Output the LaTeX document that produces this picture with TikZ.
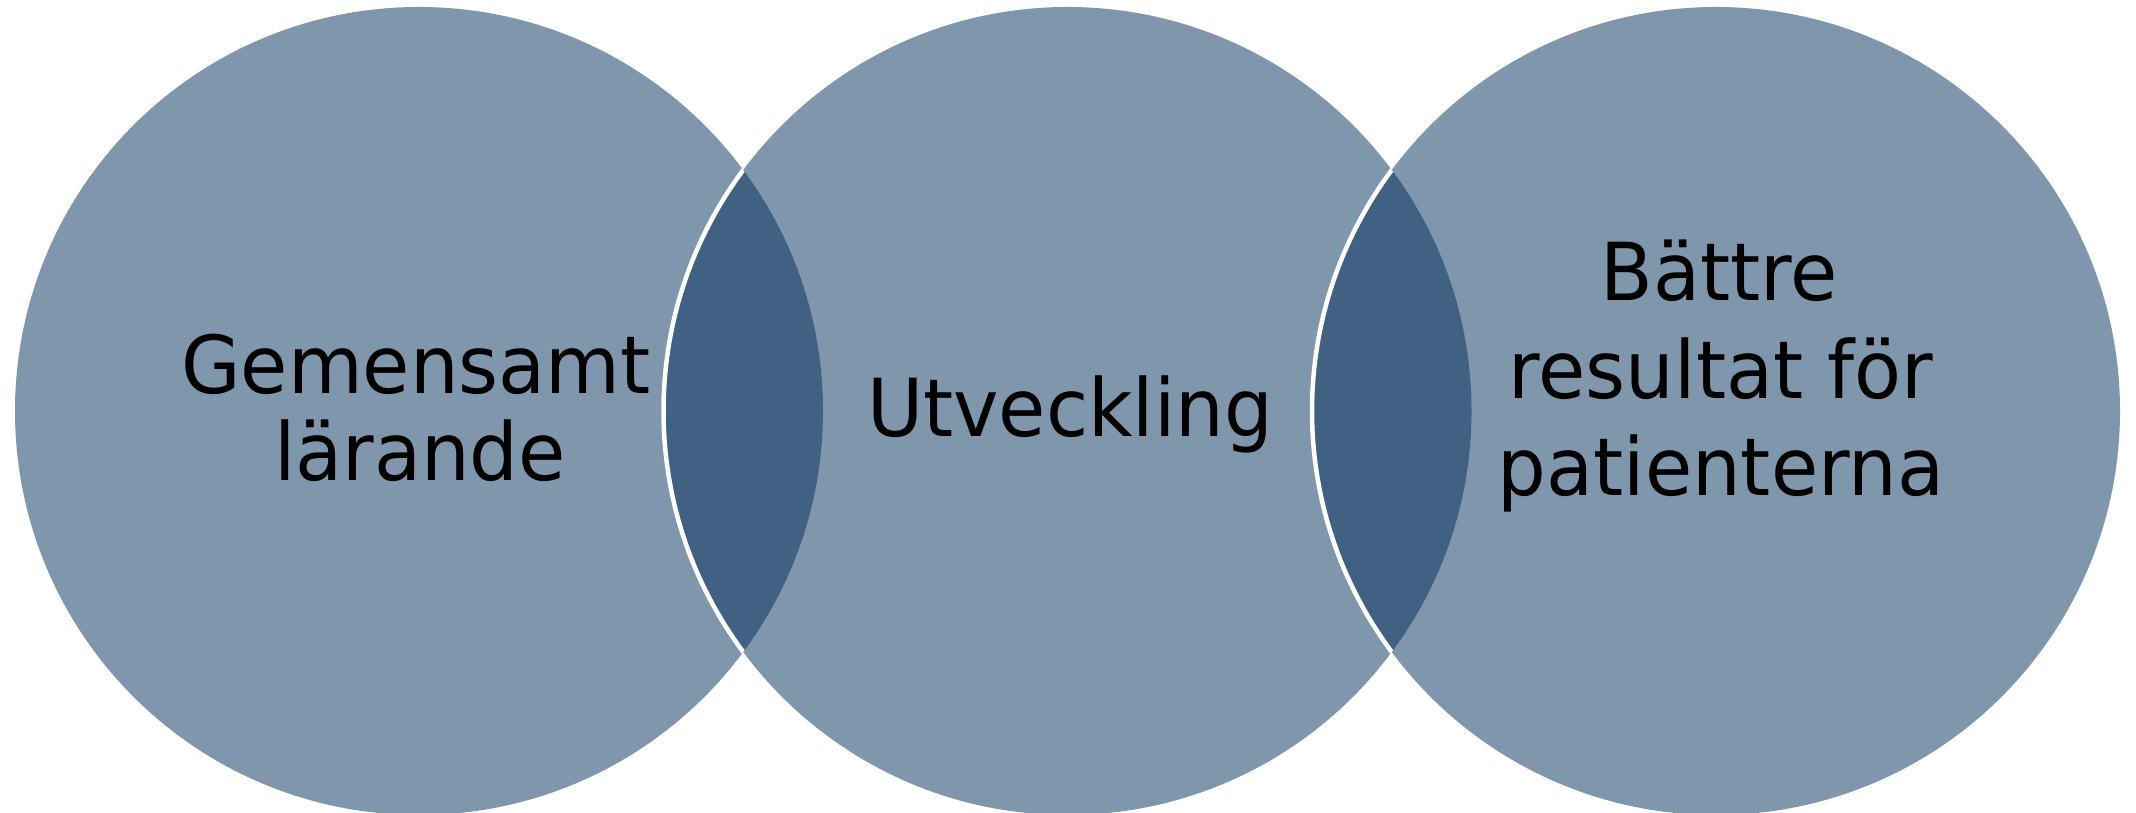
\documentclass[tikz,border=0pt]{standalone}
\usepackage{fontspec}
\setmainfont{DejaVu Sans}[FakeStretch=0.96]
\definecolor{vlight}{RGB}{127,150,172}
\definecolor{vdark}{RGB}{65,97,131}
\begin{document}
\begin{tikzpicture}[x=1pt,y=1pt,
  lbl/.style={inner sep=0pt, anchor=base, font=\fontsize{80}{88}\selectfont},
  ring/.style={fill=vlight},
  lens/.style={fill=vdark},
  rim/.style={draw=white, line width=4.5pt}]
\useasboundingbox (0,0) rectangle (2136,813);
\coordinate (c1) at (419,402);
\coordinate (c2) at (1067.5,402);
\coordinate (c3) at (1716,402);
\fill[ring] (c1) circle (404pt);
\fill[ring] (c2) circle (404pt);
\fill[ring] (c3) circle (404pt);
\begin{scope}
  \clip (c1) circle (404pt);
  \fill[lens] (c2) circle (404pt);
  \path[rim] (c2) circle (404pt);
\end{scope}
\begin{scope}
  \clip (c2) circle (404pt);
  \fill[lens] (c3) circle (404pt);
  \path[rim] (c3) circle (404pt);
\end{scope}
\node[lbl] (g1) at (416,419) {Gemensamt};
\node[lbl] (g2) at (420,332) {lärande};
\node[lbl] (u) at (1070,376) {Utveckling};
\node[lbl] (b1) at (1719,512) {Bättre};
\node[lbl] (b2) at (1721,414) {resultat för};
\node[lbl] (b3) at (1721,317) {patienterna};
\end{tikzpicture}
\end{document}
